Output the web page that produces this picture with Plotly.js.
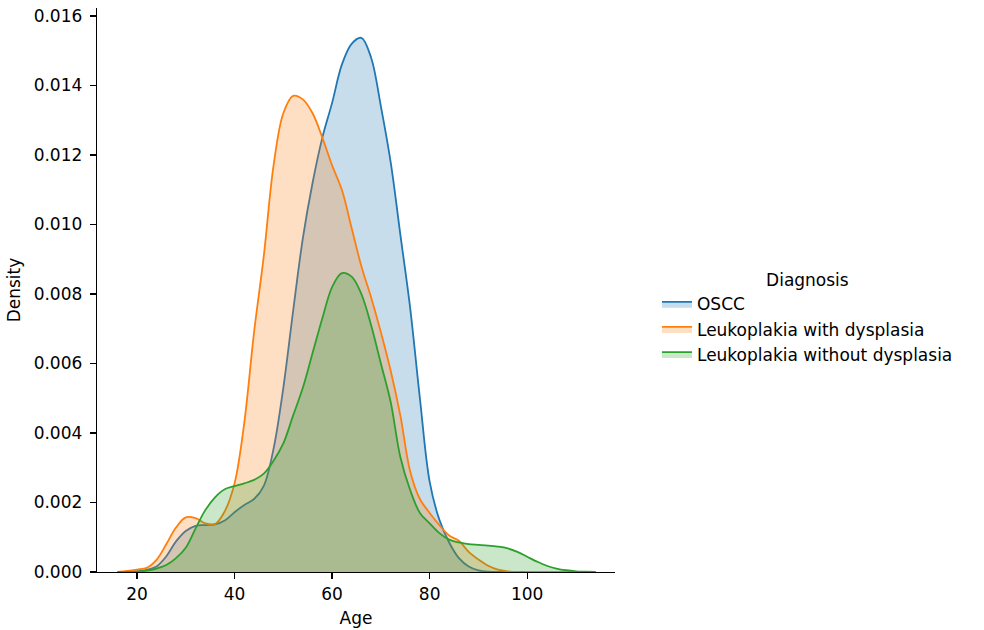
<!DOCTYPE html>
<html>
<head>
<meta charset="utf-8">
<script src="https://cdn.plot.ly/plotly-3.0.1.min.js"></script>
<style>html,body{margin:0;padding:0;background:#fff;}#chart{width:984px;height:630px;}</style>
</head>
<body>
<div id="chart"></div>
<script>
// Age grid (years) and KDE densities
const ages = [16,18,20,22,24,26,28,30,32,34,36,38,40,42,44,46,48,50,52,54,56,58,60,62,64,66,68,70,72,74,76,78,80,82,84,86,88,90,92,94,96,98,100,102,104,106,108,110,112,114];

const oscc = [0,0,0.00002,0.00006,0.00016,0.00045,0.00088,0.00118,0.00133,0.00135,0.00137,0.00148,0.00172,0.00193,0.00210,0.00248,0.00355,0.00530,0.00750,0.00960,0.01120,0.01250,0.01350,0.01460,0.01520,0.01537,0.01480,0.01340,0.01180,0.00970,0.00760,0.00500,0.00260,0.00150,0.00085,0.00040,0.00016,0.00005,0.00001,0,0,0,0,0,0,0,0,0,0,0];

const withDysplasia = [0,0.00003,0.00007,0.00012,0.00035,0.00080,0.00128,0.00157,0.00155,0.00140,0.00138,0.00175,0.00255,0.00430,0.00690,0.00910,0.01170,0.01320,0.01370,0.01360,0.01320,0.01250,0.01170,0.01100,0.00990,0.00880,0.00790,0.00690,0.00580,0.00450,0.00290,0.00210,0.00170,0.00135,0.00105,0.00090,0.00058,0.00036,0.00018,0.00007,0.00002,0,0,0,0,0,0,0,0,0];

const withoutDysplasia = [0,0,0.00001,0.00004,0.00010,0.00020,0.00040,0.00070,0.00125,0.00178,0.00215,0.00238,0.00247,0.00255,0.00265,0.00283,0.00320,0.00370,0.00450,0.00530,0.00630,0.00730,0.00820,0.00860,0.00850,0.00800,0.00710,0.00600,0.00490,0.00330,0.00236,0.00170,0.00140,0.00112,0.00093,0.00085,0.00080,0.00078,0.00076,0.00073,0.00068,0.00058,0.00044,0.00030,0.00018,0.00010,0.00005,0.00002,0.00001,0];

const seriesNames = ["OSCC","Leukoplakia with dysplasia","Leukoplakia without dysplasia"];
const seriesValues = [oscc, withDysplasia, withoutDysplasia];
const lineColors = ["#1f77b4","#ff7f0e","#2ca02c"];
const fillColors = ["rgba(31,119,180,0.25)","rgba(255,127,14,0.25)","rgba(44,160,44,0.25)"];

const traces = seriesNames.map((name, i) => ({
  type: "scatter",
  mode: "lines",
  name: name,
  legendgroup: "g" + i,
  x: ages,
  y: seriesValues[i],
  line: {color: lineColors[i], width: 1.8, shape: "spline", smoothing: 1},
  fill: "tozeroy",
  fillcolor: fillColors[i]
}));

const font = {family: "DejaVu Sans, sans-serif", size: 17, color: "#000"};

const layout = {
  width: 984,
  height: 630,
  margin: {l: 97, r: 369, t: 8, b: 58},
  paper_bgcolor: "#fff",
  plot_bgcolor: "#fff",
  font: font,
  showlegend: true,
  legend: {
    title: {text: "Diagnosis", side: "top center", font: font},
    x: 1.081, xanchor: "left",
    y: 0.45, yanchor: "middle",
    font: font,
    traceorder: "grouped",
    tracegroupgap: 0,
    bgcolor: "rgba(0,0,0,0)"
  },
  xaxis: {
    range: [11.8, 118],
    tickvals: [20,40,60,80,100],
    ticks: "outside", ticklen: 6, tickwidth: 1.3, tickcolor: "#000",
    showline: true, linecolor: "#000", linewidth: 1.3,
    showgrid: false, zeroline: false,
    tickfont: font,
    title: {text: "Age", font: font, standoff: 9}
  },
  yaxis: {
    range: [0, 0.01623],
    tickvals: [0,0.002,0.004,0.006,0.008,0.010,0.012,0.014,0.016],
    tickformat: ".3f",
    ticks: "outside", ticklen: 6, tickwidth: 1.3, tickcolor: "#000",
    ticklabelstandoff: 4,
    showline: true, linecolor: "#000", linewidth: 1.3,
    showgrid: false, zeroline: false,
    tickfont: font,
    title: {text: "Density", font: font, standoff: 8}
  }
};

Plotly.newPlot("chart", traces, layout, {staticPlot: true});
</script>
</body>
</html>
